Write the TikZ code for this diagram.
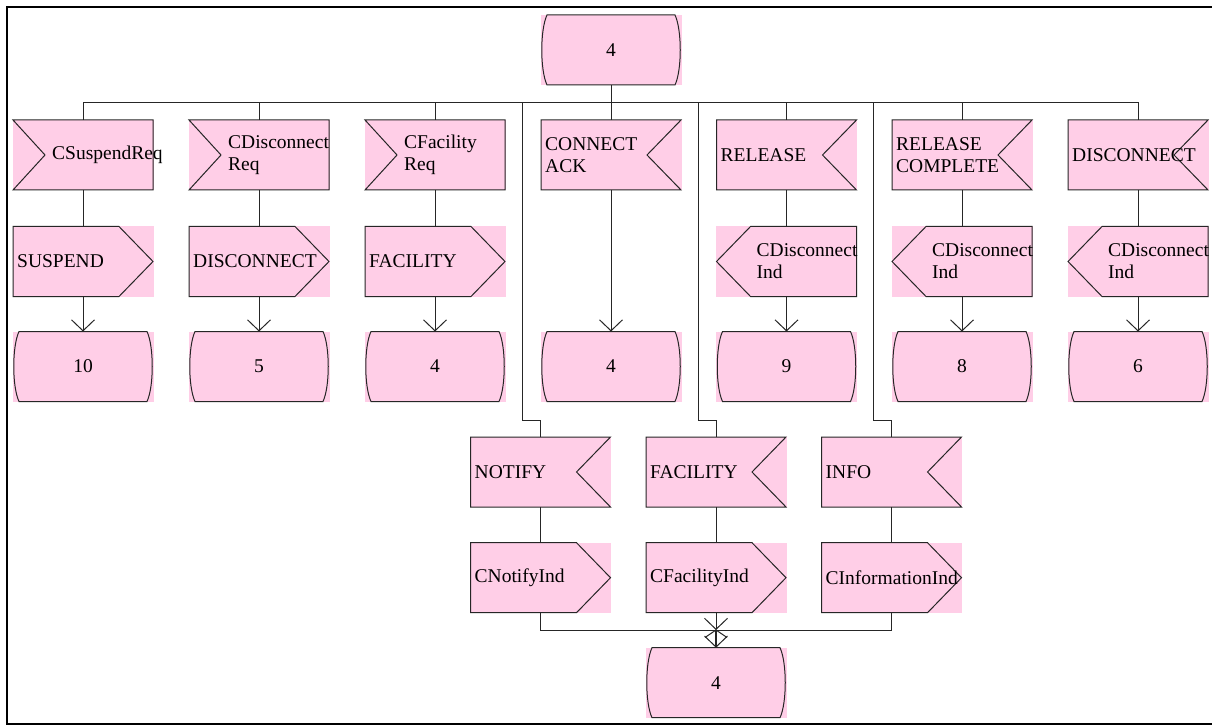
\documentclass[tikz,border=0pt]{standalone}
\usepackage{fontspec}
\setmainfont{Liberation Serif}
\usetikzlibrary{arrows.meta}
\definecolor{sdlpink}{RGB}{255,206,231}
\tikzset{
  cell/.style={rectangle, fill=sdlpink, minimum width=141pt, minimum height=70pt,
    inner sep=0pt, outer sep=0pt, font=\fontsize{19.5}{22}\selectfont},
  outl/.style={draw=black!85, line width=1pt, line join=miter},
  lbl/.style={anchor=west, align=left, inner sep=0pt, font=\fontsize{19.5}{22}\selectfont},
  wire/.style={draw=black!85, line width=1pt},
  tipv/.style={-{Straight Barb[length=11pt,width=23pt,line width=1pt]}},
}
% state symbol: rectangle with bulging sides
\newcommand\StateBox[4]{%
  \node[cell] (#1) at (#2,#3) {#4};
  \draw[outl] ({#2-64},{#3-35}) -- ({#2+64},{#3-35})
    .. controls ({#2+71},{#3-20}) and ({#2+71},{#3+20}) .. ({#2+64},{#3+35})
    -- ({#2-64},{#3+35})
    .. controls ({#2-71},{#3+20}) and ({#2-71},{#3-20}) .. cycle;
}
% input symbol, notch on the left
\newcommand\InLeft[4]{%
  \node[cell] (#1) at (#2,#3) {};
  \draw[outl] ({#2-70},{#3-35}) -- ({#2+70},{#3-35}) -- ({#2+70},{#3+35})
    -- ({#2-70},{#3+35}) -- ({#2-38},#3) -- cycle;
  \node[lbl] (#1t) at ({#2-31},#3) {#4};
}
% input symbol, notch on the right
\newcommand\InRight[4]{%
  \node[cell] (#1) at (#2,#3) {};
  \draw[outl] ({#2-70},{#3-35}) -- ({#2+70},{#3-35}) -- ({#2+36},#3)
    -- ({#2+70},{#3+35}) -- ({#2-70},{#3+35}) -- cycle;
  \node[lbl] (#1t) at ({#2-66},#3) {#4};
}
% output symbol pointing right
\newcommand\OutRight[4]{%
  \node[cell] (#1) at (#2,#3) {};
  \draw[outl] ({#2-70},{#3-35}) -- ({#2+36},{#3-35}) -- ({#2+70},#3)
    -- ({#2+36},{#3+35}) -- ({#2-70},{#3+35}) -- cycle;
  \node[lbl] (#1t) at ({#2-66},#3) {#4};
}
% output symbol pointing left
\newcommand\OutLeft[4]{%
  \node[cell] (#1) at (#2,#3) {};
  \draw[outl] ({#2+70},{#3-35}) -- ({#2-36},{#3-35}) -- ({#2-70},#3)
    -- ({#2-36},{#3+35}) -- ({#2+70},{#3+35}) -- cycle;
  \node[lbl] (#1t) at ({#2-30},#3) {#4};
}
\begin{document}
\begin{tikzpicture}[x=1pt,y=-1pt]
\useasboundingbox (0,0) rectangle (1212,727);
\fill[white] (0,0) rectangle (1212,727);
% frame
\draw[line width=2pt] (1212,7) -- (7,7) -- (7,724) -- (1212,724);

% start state
\StateBox{ts}{611}{50}{4}

% first row of inputs
\InLeft{i1}{83}{155}{CSuspendReq}
\InLeft{i2}{259}{155}{CDisconnect\\Req}
\InLeft{i3}{435}{155}{CFacility\\Req}
\InRight{i4}{611}{155}{CONNECT\\ACK}
\InRight{i5}{786.5}{155}{RELEASE}
\InRight{i6}{962}{155}{RELEASE\\COMPLETE}
\InRight{i7}{1138}{155}{DISCONNECT}

% outputs
\OutRight{o1}{83}{261.5}{SUSPEND}
\OutRight{o2}{259}{261.5}{DISCONNECT}
\OutRight{o3}{435}{261.5}{FACILITY}
\OutLeft{o5}{786.5}{261.5}{CDisconnect\\Ind}
\OutLeft{o6}{962}{261.5}{CDisconnect\\Ind}
\OutLeft{o7}{1138}{261.5}{CDisconnect\\Ind}

% next states
\StateBox{s1}{83}{366.5}{10}
\StateBox{s2}{259}{366.5}{5}
\StateBox{s3}{435}{366.5}{4}
\StateBox{s4}{611}{366.5}{4}
\StateBox{s5}{786.5}{366.5}{9}
\StateBox{s6}{962}{366.5}{8}
\StateBox{s7}{1138}{366.5}{6}

% lower branch
\InRight{n1}{540.5}{472}{NOTIFY}
\InRight{n2}{716}{472}{FACILITY}
\InRight{n3}{891.5}{472}{INFO}
\OutRight{p1}{540.5}{577.7}{CNotifyInd}
\OutRight{p2}{716}{577.7}{CFacilityInd}
\OutRight{p3}{891.5}{577.7}{CInformationInd}
\StateBox{bs}{716}{682.7}{4}

% bus from the start state
\coordinate (bj) at (611,103);
\draw[wire] (ts.south) -- (bj);
\draw[wire] (i1.north) -- (i1.north |- bj) -- (i7.north |- bj) -- (i7.north);
\foreach \c in {i2,i3,i4,i5,i6} \draw[wire] (\c.north) -- (\c.north |- bj);

% columns
\foreach \c in {1,2,3,5,6,7} {
  \draw[wire] (i\c.south) -- (o\c.north);
  \draw[wire,tipv] (o\c.south) -- (s\c.north);
}
\draw[wire,tipv] (i4.south) -- (s4.north);

% branches to the lower inputs
\coordinate (k1) at (522.5,420);
\coordinate (k2) at (698,420);
\coordinate (k3) at (873.5,420);
\foreach \c in {1,2,3} {
  \draw[wire] (k\c |- bj) -- (k\c) -- (k\c -| n\c) -- (n\c.north);
  \draw[wire] (n\c.south) -- (p\c.north);
}

% merge into the final state
\coordinate (m) at (716,630);
\draw[wire] (p1.south) -- (p1.south |- m) -- (m);
\draw[wire] (p3.south) -- (p3.south |- m) -- (m);
\draw[wire,tipv] (p2.south) -- (m);
\draw[wire] (m) -- ++(-11,7.5);
\draw[wire] (m) -- ++(11,7.5);
\draw[wire,line width=2pt,tipv] (m) -- (bs.north);
\end{tikzpicture}
\end{document}
